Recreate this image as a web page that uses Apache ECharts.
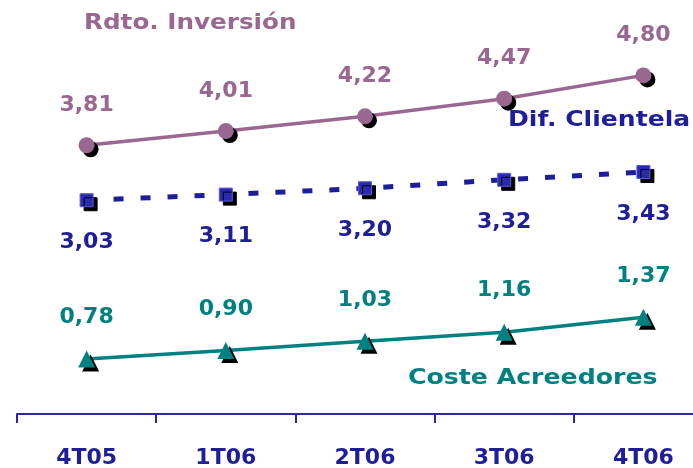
<!DOCTYPE html>
<html>
<head>
<meta charset="utf-8">
<script src="https://cdn.jsdelivr.net/npm/echarts@6/dist/echarts.min.js"></script>
<style>
  html, body { margin: 0; padding: 0; background: #fff; }
  #chart { width: 693px; height: 468px; }
</style>
</head>
<body>
<div id="chart"></div>
<script>
const categories = ['4T05', '1T06', '2T06', '3T06', '4T06'];
const rdtoInversion = [3.81, 4.01, 4.22, 4.47, 4.80];
const difClientela = [3.03, 3.11, 3.20, 3.32, 3.43];
const costeAcreedores = [0.78, 0.90, 1.03, 1.16, 1.37];

const PURPLE = '#9a6791';
const BLUE = '#1e1e9a';
const TEAL = '#008080';
const FONT = 'DejaVu Sans';

const fmt = p => p.value.toFixed(2).replace('.', ',');

const chart = echarts.init(document.getElementById('chart'));

// sombra negra desplazada en los marcadores
const shadow = {
    shadowColor: '#000',
    shadowBlur: 0,
    shadowOffsetX: 4,
    shadowOffsetY: 4
};

const labelStyle = color => ({
    show: true,
    color: color,
    fontFamily: FONT,
    fontWeight: 'bold',
    fontSize: 22,
    formatter: fmt
});

const seriesTitle = (text, x, y, color, sx) => ({
    type: 'text',
    x: x,
    y: y,
    scaleX: sx,
    style: {
        text: text,
        fill: color,
        font: 'bold 22px "' + FONT + '"',
        textVerticalAlign: 'middle'
    }
});

chart.setOption({
    animation: false,
    grid: {
        left: 17,
        right: -20,
        top: 26,
        bottom: 54,
        outerBoundsMode: 'none'
    },
    xAxis: {
        type: 'category',
        data: categories,
        boundaryGap: true,
        axisLine: { lineStyle: { color: '#2a2aa0', width: 2 } },
        axisTick: { show: true, length: 9, lineStyle: { color: '#2a2aa0', width: 2 } },
        axisLabel: {
            margin: 33,
            color: BLUE,
            fontFamily: FONT,
            fontWeight: 'bold',
            fontSize: 22
        }
    },
    yAxis: {
        type: 'value',
        min: 0,
        max: 5.5,
        show: false
    },
    series: [{
        name: 'Rdto. Inversión',
        type: 'line',
        data: rdtoInversion,
        symbol: 'circle',
        symbolSize: 16,
        lineStyle: { color: PURPLE, width: 3.5 },
        itemStyle: Object.assign({ color: PURPLE }, shadow),
        label: Object.assign(labelStyle(PURPLE), { position: 'top', distance: 21 })
    }, {
        name: 'Dif. Clientela',
        type: 'line',
        data: difClientela,
        symbol: 'rect',
        symbolSize: 13,
        lineStyle: { color: BLUE, width: 5, type: [10, 17] },
        itemStyle: Object.assign({ color: '#2a2ab0', borderColor: '#5a5ad0', borderWidth: 1 }, shadow),
        label: Object.assign(labelStyle(BLUE), { position: 'bottom', distance: 24 })
    }, {
        name: 'Coste Acreedores',
        type: 'line',
        data: costeAcreedores,
        symbol: 'triangle',
        symbolSize: 17,
        lineStyle: { color: TEAL, width: 3.5 },
        itemStyle: Object.assign({ color: TEAL }, shadow),
        label: Object.assign(labelStyle(TEAL), { position: 'top', distance: 22 })
    }],
    graphic: [
        seriesTitle('Rdto. Inversión', 84, 23, PURPLE, 1.12),
        seriesTitle('Dif. Clientela', 508, 120, BLUE, 1.14),
        seriesTitle('Coste Acreedores', 408, 378, TEAL, 1.145)
    ]
});
</script>
</body>
</html>
